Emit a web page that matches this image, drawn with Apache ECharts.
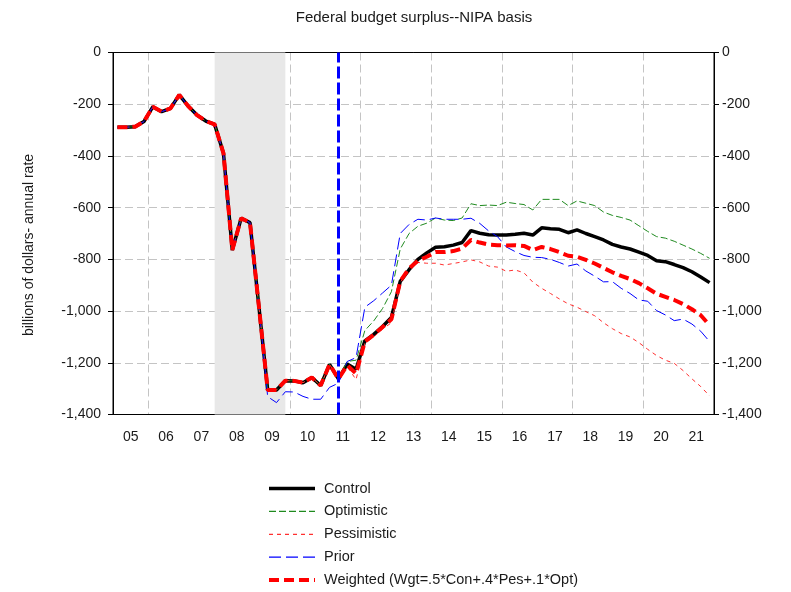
<!DOCTYPE html>
<html>
<head>
<meta charset="utf-8">
<script src="https://cdn.jsdelivr.net/npm/echarts@6/dist/echarts.min.js"></script>
<style>
html,body{margin:0;padding:0;background:#fff;}
#chart{width:791px;height:592px;}
</style>
</head>
<body>
<div id="chart"></div>
<script>
// ---- data ----
const startYear = 2005, endYear = 2021;
const yearLabels = ['05','06','07','08','09','10','11','12','13','14','15','16','17','18','19','20','21'];
const quarters = [];
for (let y = startYear; y <= endYear; y++) for (let q = 1; q <= 4; q++) quarters.push(y + 'Q' + q);

// actual history, 2005Q1 - 2011Q2 (shared by all current series)
const history = [-289,-289,-287,-267,-210,-229,-216,-164,-207,-242,-265,-278,-390,-764,-641,-658,
  -980,-1305,-1305,-1269,-1270,-1277,-1257,-1288,-1206,-1262];
// forecasts 2011Q3 - 2021Q4
const controlFc = [-1205,-1225,-1115,-1090,-1060,-1025,-885,-840,-800,-775,-753,-751,-745,-735,-689,-699,
  -705,-706,-706,-703,-699,-706,-678,-682,-684,-697,-686,-700,-712,-725,-742,-752,-760,-772,-785,-805,
  -809,-820,-832,-848,-868,-890];
const optimisticFc = [-1195,-1190,-1075,-1038,-990,-925,-760,-700,-672,-660,-640,-648,-650,-640,-585,-592,
  -590,-592,-579,-584,-588,-609,-568,-568,-568,-592,-574,-583,-592,-617,-630,-638,-648,-670,-692,-712,
  -718,-730,-745,-760,-777,-796];
const pessimisticFc = [-1215,-1265,-1125,-1100,-1070,-1045,-890,-835,-812,-815,-815,-822,-816,-810,-802,-810,
  -826,-830,-846,-841,-852,-888,-912,-932,-953,-972,-985,-1002,-1018,-1045,-1068,-1087,-1100,-1122,-1148,-1172,
  -1190,-1202,-1230,-1262,-1292,-1328];
const weightedFc = [-1210,-1242,-1118,-1092,-1062,-1032,-885,-835,-805,-790,-772,-772,-768,-758,-725,-735,
  -743,-745,-746,-745,-748,-764,-752,-760,-772,-786,-790,-802,-816,-833,-850,-864,-876,-892,-912,-933,
  -945,-957,-973,-993,-1016,-1055];
// prior forecast: shares history to 2009Q1, then its own path from 2009Q2
const priorHistoryLen = 17;
const priorFc = [-1331,-1354,-1312,-1313,-1330,-1341,-1341,-1295,-1279,
  -1195,-1180,-985,-960,-930,-900,-700,-665,-645,-648,-640,-645,-645,-645,-641,-661,-690,-712,-752,-770,
  -785,-792,-793,-800,-812,-826,-818,-845,-865,-887,-886,-912,-932,-957,-962,-998,-1015,-1037,-1031,-1050,
  -1078,-1118];
const lastActual = '2011Q2';
const recession = ['2007Q4', '2009Q4'];
const yTicks = {min: -1400, max: 0, step: 200};

const control = history.concat(controlFc);
const optimistic = history.concat(optimisticFc);
const pessimistic = history.concat(pessimisticFc);
const weighted = history.concat(weightedFc);
const prior = history.slice(0, priorHistoryLen).concat(priorFc);

// ---- chart ----
const FONT = "'Liberation Sans', Arial, sans-serif";
const TXT = '#1a1a1a';
const GRIDC = '#c4c4c4';
const fmt = v => v.toLocaleString('en-US');
const WNAME = 'Weighted (Wgt=.5*Con+.4*Pes+.1*Opt)';

const chart = echarts.init(document.getElementById('chart'), null, {renderer: 'canvas'});
chart.setOption({
  animation: false,
  backgroundColor: '#fff',
  textStyle: {fontFamily: FONT},
  graphic: [{
    type: 'text', x: 414, y: 18, z: 10,
    style: {text: 'Federal budget surplus--NIPA basis', fontFamily: FONT, fontSize: 15,
      fill: TXT, textAlign: 'center', textVerticalAlign: 'middle'}
  }, {
    type: 'text', x: 29, y: 245, z: 10, rotation: Math.PI / 2,
    style: {text: 'billions of dollars- annual rate', fontFamily: FONT, fontSize: 14,
      fill: TXT, textAlign: 'center', textVerticalAlign: 'middle'}
  }],
  grid: {left: 113, right: 77, top: 52.5, bottom: 177.5, show: true,
    borderColor: '#000', borderWidth: 1, backgroundColor: 'transparent'},
  legend: {
    orient: 'vertical', left: 267, top: 481, padding: 0, itemWidth: 46, itemHeight: 14, itemGap: 7.9,
    itemStyle: {opacity: 0},
    textStyle: {fontSize: 14.5, color: TXT, fontFamily: FONT, padding: [0, 0, 0, 4]},
    data: [
      {name: 'Control', lineStyle: {width: 3.5}},
      {name: 'Optimistic', lineStyle: {width: 1.2}},
      {name: 'Pessimistic', lineStyle: {width: 1.2}},
      {name: 'Prior', lineStyle: {width: 1.2}},
      {name: WNAME, lineStyle: {width: 4}}
    ]
  },
  xAxis: [
    {type: 'category', data: quarters, boundaryGap: true, position: 'bottom',
      axisLine: {onZero: false, lineStyle: {color: '#000', width: 1}},
      axisTick: {interval: 0, length: 3, lineStyle: {color: '#000'}},
      axisLabel: {show: false},
      splitLine: {show: true, interval: (i) => i % 8 === 4, lineStyle: {color: GRIDC, type: [8, 4], width: 1}}},
    {type: 'category', data: quarters, boundaryGap: true, position: 'bottom',
      axisLine: {show: false, onZero: false},
      axisTick: {interval: 3, length: 6, lineStyle: {color: '#000'}},
      axisLabel: {show: false}, splitLine: {show: false}},
    {type: 'category', data: yearLabels, boundaryGap: true, position: 'bottom',
      axisLine: {show: false, onZero: false}, axisTick: {show: false}, splitLine: {show: false},
      axisLabel: {interval: 0, fontSize: 14, color: TXT, margin: 16, fontFamily: FONT}},
    {type: 'category', data: yearLabels, boundaryGap: true, position: 'top',
      axisLine: {show: true, onZero: false, lineStyle: {color: '#000', width: 1}},
      axisTick: {show: false}, axisLabel: {show: false}, splitLine: {show: false}}
  ],
  yAxis: [
    {type: 'value', min: yTicks.min, max: yTicks.max, interval: yTicks.step, position: 'left',
      axisLine: {show: true, onZero: false, lineStyle: {color: '#000'}},
      axisTick: {show: true, length: 5, lineStyle: {color: '#000'}},
      axisLabel: {fontSize: 14, color: TXT, margin: 12, formatter: fmt, fontFamily: FONT},
      splitLine: {show: true, showMinLine: false, showMaxLine: false,
        lineStyle: {color: GRIDC, type: [8, 4], width: 1}}},
    {type: 'value', min: yTicks.min, max: yTicks.max, interval: yTicks.step, position: 'right',
      axisLine: {show: true, onZero: false, lineStyle: {color: '#000'}},
      axisTick: {show: true, length: 5, lineStyle: {color: '#000'}},
      axisLabel: {fontSize: 14, color: TXT, margin: 8, formatter: fmt, fontFamily: FONT},
      splitLine: {show: false}}
  ],
  series: [
    {name: 'recession', type: 'line', z: -1, silent: true, data: control, symbol: 'none',
      lineStyle: {opacity: 0, width: 0},
      markArea: {silent: true, itemStyle: {color: '#e8e8e8'},
        data: [[{xAxis: recession[0]}, {xAxis: recession[1]}]]}},
    {name: 'Control', type: 'line', data: control, symbol: 'none', z: 3,
      lineStyle: {color: '#000', width: 3.5}, itemStyle: {color: '#000'}},
    {name: 'Optimistic', type: 'line', data: optimistic, symbol: 'none', z: 3,
      lineStyle: {color: '#1f8a1f', width: 1, type: [7, 3]}, itemStyle: {color: '#1f8a1f'}},
    {name: 'Pessimistic', type: 'line', data: pessimistic, symbol: 'none', z: 3,
      lineStyle: {color: '#ff3030', width: 1, type: [4, 4]}, itemStyle: {color: '#ff3030'}},
    {name: 'Prior', type: 'line', data: prior, symbol: 'none', z: 3,
      lineStyle: {color: '#0000ff', width: 1, type: [12, 5]}, itemStyle: {color: '#0000ff'}},
    {name: WNAME, type: 'line', data: weighted, symbol: 'none', z: 4,
      lineStyle: {color: '#ff0000', width: 4, type: [10, 5]}, itemStyle: {color: '#ff0000'},
      markLine: {silent: true, symbol: 'none', label: {show: false},
        lineStyle: {color: '#0000ff', width: 3, type: [12, 4]},
        data: [{xAxis: lastActual}]}}
  ]
});
</script>
</body>
</html>
